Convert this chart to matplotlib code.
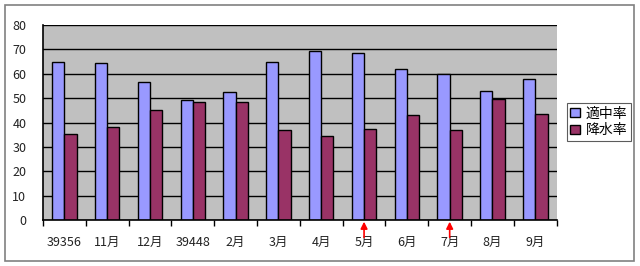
import matplotlib
matplotlib.use("Agg")

import matplotlib.pyplot as plt
from matplotlib.patches import Rectangle
import numpy as np

plt.rcParams['font.family'] = ['Noto Sans CJK JP', 'DejaVu Sans']

# data
months = ['39356', '11月', '12月', '39448', '2月', '3月', '4月', '5月', '6月', '7月', '8月', '9月']
hit_rate = [65.0, 64.3, 56.5, 49.4, 52.5, 64.7, 69.4, 68.7, 61.9, 60.0, 53.0, 58.0]
rain_rate = [35.2, 38.1, 45.1, 48.6, 48.6, 36.9, 34.5, 37.3, 43.0, 36.9, 49.6, 43.4]
marked = ['5月', '7月']

fig = plt.figure(figsize=(6.4, 2.66), dpi=100)
W, H = 640, 266
ax = fig.add_axes([43 / W, 1 - 220.3 / H, (556.7 - 43) / W, (220.3 - 25) / H])

# outer frame
fig.patches.append(Rectangle((4.5 / W, 1 - 260.5 / H), 629.5 / W, 256 / H,
                             transform=fig.transFigure, fill=False,
                             edgecolor='#808080', linewidth=1.2))

x = np.arange(len(months))
bw = 1 / 3.5
ax.set_facecolor('#C0C0C0')
ax.set_axisbelow(True)
ax.yaxis.grid(True, color='black', linewidth=1)
ax.bar(x - bw / 2, hit_rate, bw, color='#9999FF', edgecolor='black', linewidth=1, label='適中率')
ax.bar(x + bw / 2, rain_rate, bw, color='#993366', edgecolor='black', linewidth=1, label='降水率')

ax.set_xlim(-0.5, len(months) - 0.5)
ax.set_ylim(0, 80)
ax.set_yticks(range(0, 81, 10))
ax.set_xticks(x)
ax.set_xticklabels(months)
ax.set_xticks(np.arange(-0.5, len(months)), minor=True)
ax.tick_params(axis='x', which='major', length=0, pad=11, labelsize=9, colors='#222222')
ax.tick_params(axis='x', which='minor', length=4, width=1, direction='out', color='black')
ax.tick_params(axis='y', length=0, pad=12, labelsize=9, colors='#222222')

for s in ['top', 'right']:
    ax.spines[s].set_visible(False)
for s in ['left', 'bottom']:
    ax.spines[s].set_color('black')
    ax.spines[s].set_linewidth(1.2)

# red arrows below the marked months
for m in marked:
    i = months.index(m)
    ax.annotate('', xy=(i, 0), xytext=(i, -7), xycoords='data',
                annotation_clip=False,
                arrowprops=dict(arrowstyle='-|>', color='red', lw=1.2,
                                mutation_scale=10, shrinkA=0, shrinkB=1))

leg = fig.legend(loc='upper left', bbox_to_anchor=(567 / W, 1 - 103 / H),
                 borderaxespad=0, frameon=True, fancybox=False, edgecolor='#333333',
                 fontsize=10, handlelength=0.7, handleheight=0.7,
                 handletextpad=0.4, borderpad=0.25, labelspacing=0.2)
leg.get_frame().set_linewidth(0.8)

fig.savefig('out.png', dpi=100)
